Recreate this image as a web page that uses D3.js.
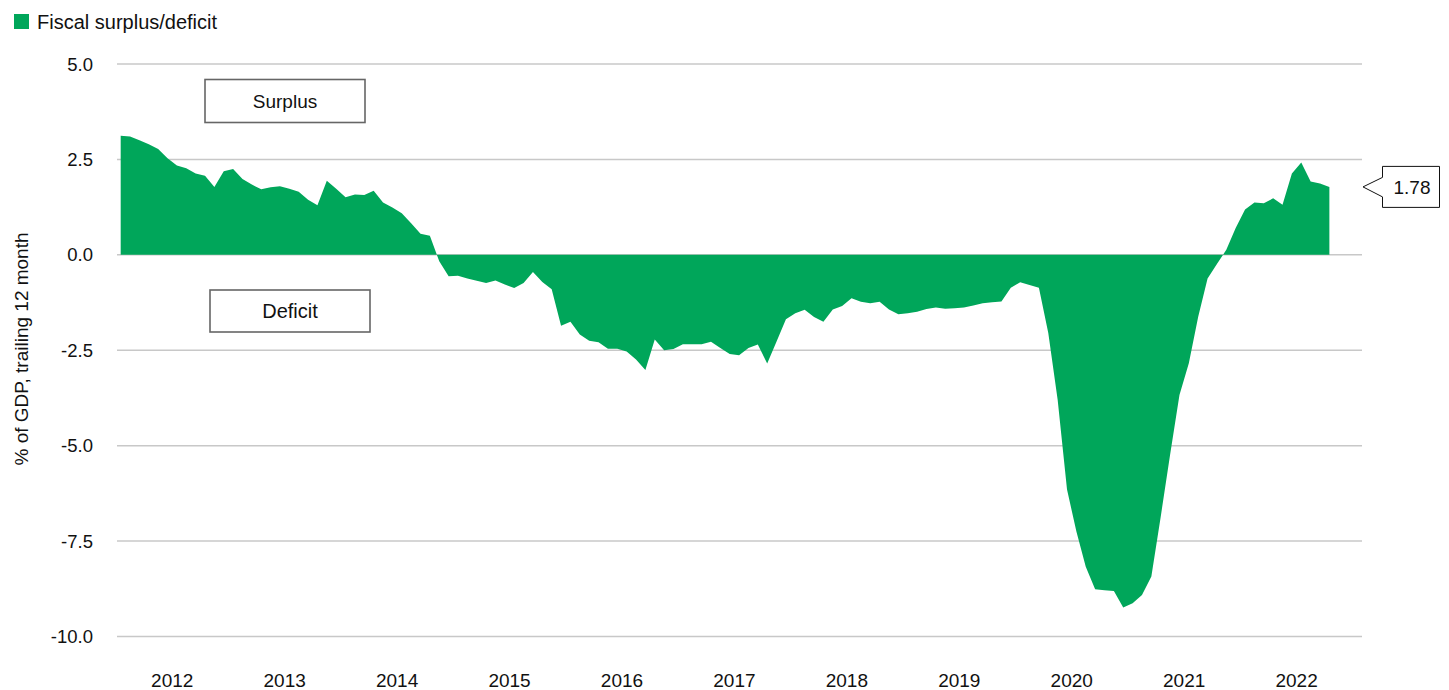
<!DOCTYPE html>
<html lang="en">
<head>
  <meta charset="UTF-8">
  <title>Fiscal surplus/deficit</title>
  <script src="https://d3js.org/d3.v7.min.js"></script>
  <style>
    body { margin: 0; background: #fff; }
    text { font-family: "Liberation Sans", Arial, sans-serif; fill: #111; }
    .grid line { stroke: #c8c8c8; stroke-width: 1.5; }
  </style>
</head>
<body>
  <svg width="1449" height="690"></svg>

  <script>
    // monthly values, Jan 2012 .. Oct 2022 (% of GDP, trailing 12 month)
    const surplus = [
      3.12, 3.10, 3.00, 2.90, 2.77, 2.53, 2.34, 2.27, 2.13, 2.07, 1.78, 2.19,
      2.25, 1.99, 1.84, 1.72, 1.77, 1.80, 1.73, 1.65, 1.44, 1.30, 1.94, 1.73,
      1.51, 1.58, 1.57, 1.68, 1.37, 1.24, 1.09, 0.83, 0.55, 0.50, -0.17, -0.56,
      -0.55, -0.62, -0.68, -0.74, -0.67, -0.78, -0.87, -0.74, -0.45, -0.71, -0.90, -1.86,
      -1.75, -2.09, -2.25, -2.29, -2.46, -2.46, -2.53, -2.74, -3.02, -2.22, -2.50, -2.47,
      -2.34, -2.34, -2.34, -2.28, -2.44, -2.60, -2.63, -2.44, -2.35, -2.85, -2.27, -1.69,
      -1.53, -1.44, -1.63, -1.75, -1.43, -1.34, -1.14, -1.23, -1.27, -1.23, -1.43, -1.56,
      -1.53, -1.49, -1.42, -1.38, -1.41, -1.40, -1.38, -1.33, -1.27, -1.24, -1.22, -0.86,
      -0.72, -0.79, -0.86, -2.05, -3.80, -6.15, -7.25, -8.17, -8.76, -8.79, -8.81, -9.24,
      -9.13, -8.91, -8.43, -6.86, -5.24, -3.67, -2.84, -1.62, -0.62, -0.24, 0.13, 0.70,
      1.19, 1.37, 1.35, 1.48, 1.31, 2.13, 2.42, 1.92, 1.87, 1.78
    ];
    const years = ["2012", "2013", "2014", "2015", "2016", "2017", "2018", "2019", "2020", "2021", "2022"];
    const yTicks = [5, 2.5, 0, -2.5, -5, -7.5, -10];
    const green = "#00a65a";

    const svg = d3.select("svg");

    // month index scale: each month is a band, points sit at band centres
    const x = d3.scaleLinear().domain([-0.5, 131.5]).range([116, 1352.8]);
    const y = d3.scaleLinear().domain([-10, 5]).range([636.5, 64]);
    const gridLeft = 117, gridRight = 1362;

    // gridlines
    svg.append("g").attr("class", "grid")
      .selectAll("line")
      .data(yTicks)
      .join("line")
      .attr("x1", gridLeft).attr("x2", gridRight)
      .attr("y1", d => y(d)).attr("y2", d => y(d));

    // y tick labels (plain hyphen for negatives)
    svg.append("g")
      .selectAll("text")
      .data(yTicks)
      .join("text")
      .attr("x", 93)
      .attr("y", d => y(d))
      .attr("dy", "0.36em")
      .attr("text-anchor", "end")
      .style("font-size", "18.5px")
      .text(d => d.toFixed(1));

    // y axis title
    svg.append("text")
      .attr("transform", "translate(28,349) rotate(-90)")
      .attr("text-anchor", "middle")
      .style("font-size", "19px")
      .text("% of GDP, trailing 12 month");

    // x year labels, centred in each year
    svg.append("g")
      .selectAll("text")
      .data(years)
      .join("text")
      .attr("x", (d, i) => x(i * 12 + 5.5))
      .attr("y", 687)
      .attr("text-anchor", "middle")
      .style("font-size", "19px")
      .text(d => d);

    // area
    const area = d3.area()
      .x((d, i) => x(i))
      .y0(y(0))
      .y1(d => y(d));

    svg.append("path")
      .datum(surplus)
      .attr("d", area)
      .attr("fill", green);

    // legend
    svg.append("rect")
      .attr("x", 14).attr("y", 14).attr("width", 15).attr("height", 15)
      .attr("fill", green);
    svg.append("text")
      .attr("x", 37).attr("y", 28.5)
      .style("font-size", "20px")
      .text("Fiscal surplus/deficit");

    // surplus / deficit boxes
    const boxes = [
      {label: "Surplus", x: 205, y: 79.5, w: 160, h: 43, size: "19px"},
      {label: "Deficit", x: 210, y: 290, w: 160, h: 42, size: "20px"}
    ];
    const bx = svg.append("g").selectAll("g").data(boxes).join("g");
    bx.append("rect")
      .attr("x", d => d.x).attr("y", d => d.y)
      .attr("width", d => d.w).attr("height", d => d.h)
      .attr("fill", "#fff")
      .attr("stroke", "#666").attr("stroke-width", 1.6);
    bx.append("text")
      .attr("x", d => d.x + d.w / 2)
      .attr("y", d => d.y + d.h / 2)
      .attr("dy", "0.36em")
      .attr("text-anchor", "middle")
      .style("font-size", d => d.size)
      .text(d => d.label);

    // last value callout
    const last = surplus[surplus.length - 1];
    const ty = y(last);
    const tipX = gridRight + 1, boxL = 1382.5, boxR = 1439.5;
    const boxTop = ty - 20.5, boxBot = ty + 20.5;
    svg.append("path")
      .attr("d", `M${boxL},${boxTop} L${boxR},${boxTop} L${boxR},${boxBot} L${boxL},${boxBot} L${boxL},${ty + 10} L${tipX},${ty} L${boxL},${ty - 9.5} Z`)
      .attr("fill", "#fff")
      .attr("stroke", "#111").attr("stroke-width", 1);
    svg.append("text")
      .attr("x", (boxL + boxR) / 2 + 1)
      .attr("y", ty)
      .attr("dy", "0.36em")
      .attr("text-anchor", "middle")
      .style("font-size", "19px")
      .text(last.toFixed(2));
  </script>
</body>
</html>
